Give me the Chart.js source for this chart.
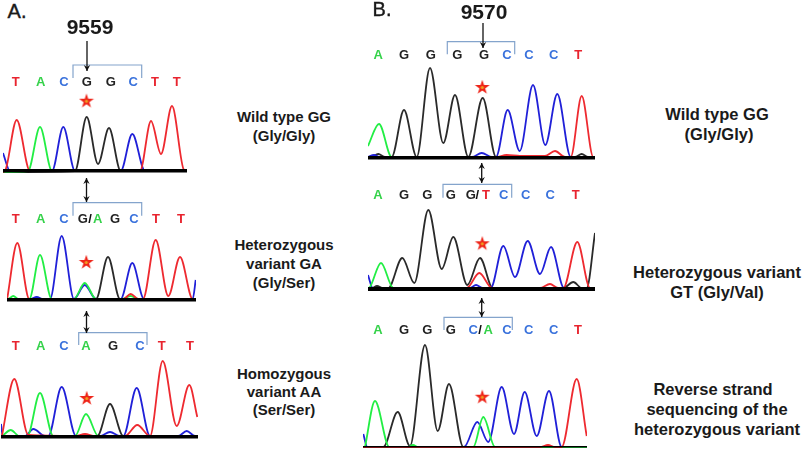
<!DOCTYPE html>
<html><head><meta charset="utf-8">
<script src="https://cdn.jsdelivr.net/npm/chart.js@4/dist/chart.umd.min.js"></script>
<style>
html,body{margin:0;padding:0;background:#fff;width:805px;height:450px;overflow:hidden;font-family:"Liberation Sans",Arial,sans-serif}
canvas{position:absolute;left:0;top:0}
.chartBox{position:absolute}
.t{position:absolute;white-space:nowrap;transform:translate(-50%,-50%);color:#1a1a1a}
.lab{font-weight:bold;font-size:15px}
.labB{font-weight:bold;font-size:16.5px}
</style></head><body>
<script>
// Base calls (bases), their scan positions, and per-channel traces [scan position, signal]
const a1Bases=["T","A","C","G","G","C","T","T"];
const a1BasePos=[15.7,40.7,64,86.7,110.7,133.3,155,176.7];
const a1T=[[3,0],[5,1],[16.7,52],[30,1],[140,1],[151,51],[161,18],[172,66],[184,2],[187,1]];
const a1G=[[3,0],[75,1],[86.7,55],[98,8],[109,44],[120.7,1],[187,1]];
const a1A=[[3,0],[28,1],[40,45],[52,1],[187,1]];
const a1C=[[3,19],[10,1],[52,1],[63.3,45],[75,1],[120.7,1],[132.3,38],[145,1],[187,1]];

const a2Bases=["T","A","C","G","/","A","G","C","T","T"];
const a2BasePos=[15.7,40.7,64,82.7,90,97.7,115,134,156,181];
const a2T=[[7.3,3],[17.3,58],[29.3,2],[123.3,2],[130.7,7],[138.3,2],[143,2],[155.7,61],[168.3,5],[180,44],[192.7,2],[195,2]];
const a2G=[[7,2],[96,2],[108,44],[120,2],[195,2]];
const a2A=[[7,2],[8,2],[13.3,5],[18.3,2],[29.3,2],[40,46],[51.7,2],[74,2],[84.7,18],[96,2],[122,2],[130.7,5],[138,2],[195,2]];
const a2C=[[7,2],[30,2],[36.7,4],[43,2],[50,2],[61.7,65],[74,2],[84.7,16],[96,2],[120.7,2],[132.3,38],[144,2],[192.7,2],[195.7,21]];

const a3Bases=["T","A","C","A","G","C","T","T"];
const a3BasePos=[15.7,40.7,64,86,113,140,161.7,190];
const a3T=[[1.7,1],[14.3,59],[28.3,3],[75,2],[85,4],[95,2],[125,2],[137.3,13],[150,2],[162.7,77],[176.7,12],[189.3,53],[197.3,21]];
const a3G=[[1,2],[97.3,2],[110,34],[123.3,2],[197,2]];
const a3A=[[3.3,3],[10.7,8],[19.3,2],[27.3,2],[40,45],[53.3,2],[75,2],[86,24],[98.3,2],[197,2]];
const a3C=[[1,14],[2.7,2],[25,2],[33.3,9],[45,2],[48.3,2],[61.7,51],[76,2],[100,2],[110,6],[120,2],[123.3,2],[136.7,50],[150,2],[178.3,2],[186.7,7],[195,2],[197,2]];

const b1Bases=["A","G","G","G","G","C","C","C","T"];
const b1BasePos=[378.3,404,430.7,457.3,484,507,529,553.7,578.3];
const b1T=[[368,1],[496,2],[506.7,4],[520,3],[533,3],[545,3],[555,8],[565,2],[570.7,2],[581.7,63],[593.3,2],[595,2]];
const b1G=[[368,1],[372,2],[378.3,5],[385,2],[391.7,2],[404,49],[416.7,2],[430,91],[443.3,16],[455,64],[468.3,2],[482.7,61],[496,2],[575,2],[581.7,5],[588,2],[595,2]];
const b1A=[[368,13],[379,35],[391.7,2],[595,2]];
const b1C=[[368,2],[374,4],[380,2],[472,2],[481.7,6],[492,2],[496,2],[507.7,49],[519.7,8],[533,74],[545.3,14],[557.3,65],[570.7,2],[595,2]];

const b2Bases=["A","G","G","G","G","/","T","C","C","C","T"];
const b2BasePos=[378,404,427.3,450.7,470.7,477.3,486,503.7,525.7,550.3,575.7];
const b2T=[[368,2],[466.7,2],[479.3,17],[492,2],[540,2],[550,6],[558,2],[563.3,2],[577.3,48],[590,2],[595,2]];
const b2G=[[368,2],[372,2],[377,4],[383,2],[388.3,2],[402.3,32],[414.3,7],[428.3,80],[441.7,21],[453.3,53],[467.3,5],[480,32],[492.7,2],[563.3,2],[573.3,8],[581.7,2],[586.7,2],[595,57]];
const b2A=[[368,2],[370,3],[381,27],[393.3,2],[595,2]];
const b2C=[[368,15],[372.7,2],[470,2],[476,5],[482.7,2],[490.7,2],[503.3,44],[515,13],[527.7,49],[540,16],[551,43],[564,2],[595,2]];

const b3Bases=["A","G","G","G","C","/","A","C","C","C","T"];
const b3BasePos=[378,404,427.3,450.7,473.3,480,488.3,507,528.7,553.7,578];
const b3T=[[363,1],[540,1],[548,3],[555,1],[561.7,1],[576.7,69],[586.7,12]];
const b3G=[[363,1],[383.3,1],[397.7,36],[410,2],[425,103],[437.7,17],[449,64],[463.3,1],[587,1]];
const b3A=[[365,1],[375,47],[389.3,1],[408,1],[413,3],[418,1],[473.3,1],[483.3,31],[495,1],[587,1]];
const b3C=[[363.3,14],[367.3,1],[464,1],[477.3,26],[488.3,6],[501.7,61],[514,14],[524.7,56],[536.7,12],[549,57],[561.7,1],[587,1]];

const panelStars=[86.5,86.3,86.7,482.3,482.3,482.3];
const baseColors={A:"#35d24a",C:"#3a72dc",G:"#222222",T:"#e8242f","/":"#111111"};
const traceColors={A:"#22ee44",C:"#2020d8",G:"#2a2a2a",T:"#ee2a30"};

// star marker used as the point style of the "variant position" dataset
function starImage(){
  const c=document.createElement("canvas");c.width=16;c.height=16;
  const g=c.getContext("2d");
  g.beginPath();
  for(let i=0;i<10;i++){const r=i%2?3:7.8,a=-Math.PI/2+i*Math.PI/5;
    g.lineTo(8+r*Math.cos(a),8.5+r*Math.sin(a));}
  g.closePath();g.fillStyle="#ee2418";g.fill();
  g.beginPath();g.arc(8,8.5,1.6,0,7);g.fillStyle="#f0a020";g.fill();
  return c;
}
const star=starImage();

const annot={id:"annot",afterDatasetsDraw(ch){
  const o=ch.options.plugins.annot,c=ch.ctx,x=ch.scales.x,y=ch.scales.y;
  c.save();
  c.font='bold 13px "Liberation Sans",Arial,sans-serif';
  c.textAlign="center";c.textBaseline="middle";
  o.bases.forEach((b,i)=>{c.fillStyle=baseColors[b];c.fillText(b,x.getPixelForValue(o.pos[i]),y.getPixelForValue(o.rowH));});
  const [bx0,bx1,bt,bb]=o.bracket;
  c.strokeStyle="#84a4cc";c.lineWidth=1.2;c.beginPath();
  c.moveTo(x.getPixelForValue(bx0),y.getPixelForValue(bb));
  c.lineTo(x.getPixelForValue(bx0),y.getPixelForValue(bt));
  c.lineTo(x.getPixelForValue(bx1),y.getPixelForValue(bt));
  c.lineTo(x.getPixelForValue(bx1),y.getPixelForValue(bb));c.stroke();
  c.strokeStyle="#111";c.fillStyle="#111";
  o.arrows.forEach(a=>{
    const ax=a[0],top=a[1],bot=a[2],dbl=a[3];
    const px=x.getPixelForValue(ax),p0=y.getPixelForValue(top),p1=y.getPixelForValue(bot);
    c.lineWidth=1.3;c.beginPath();c.moveTo(px,p0);c.lineTo(px,p1);c.stroke();
    const head=(py,d)=>{c.beginPath();c.moveTo(px,py);c.lineTo(px-3.2,py-d*6);c.lineTo(px,py-d*4);c.lineTo(px+3.2,py-d*6);c.closePath();c.fill();};
    head(p1,1);if(dbl)head(p0,-1);
  });
  c.restore();
}};
Chart.register(annot);

function makePanel(cfg){
  const W=cfg.right-cfg.left,H=cfg.base-cfg.top,below=2; // room under the baseline
  const box=document.createElement("div");box.className="chartBox";
  box.style.cssText=`left:${cfg.left}px;top:${cfg.top}px;width:${W}px;height:${H+below}px`;
  const cv=document.createElement("canvas");cv.width=W;cv.height=H+below;box.appendChild(cv);document.body.appendChild(box);
  const toXY=a=>a.map(p=>({x:p[0],y:p[1]}));
  const h=v=>cfg.base-v; // annotation heights measured above the baseline
  const ser=(name,arr)=>({label:name,data:toXY(arr),borderColor:traceColors[name],borderWidth:1.8,pointRadius:0,cubicInterpolationMode:"monotone",fill:false});
  new Chart(cv,{type:"line",
    data:{datasets:[ser("T",cfg.T),ser("A",cfg.A),ser("C",cfg.C),ser("G",cfg.G),
      {label:"star",data:[{x:cfg.starX,y:h(cfg.starY)}],pointStyle:star,pointRadius:8,showLine:false,clip:false}]},
    options:{responsive:false,animation:false,maintainAspectRatio:false,
      layout:{padding:0,autoPadding:false},
      plugins:{legend:{display:false},tooltip:{enabled:false},
        annot:{bases:cfg.bases,pos:cfg.pos,rowH:h(cfg.rowY),
          bracket:[cfg.br[0],cfg.br[1],h(cfg.br[2]),h(cfg.br[3])],
          arrows:cfg.arrows.map(a=>[a[0],h(a[1]),h(a[2]),a[3]])}},
      scales:{
        x:{type:"linear",position:{y:1},min:cfg.left,max:cfg.right,ticks:{display:false},grid:{display:false,drawTicks:false},border:{color:"#000",width:cfg.bw,z:1}},
        y:{min:-below,max:H,display:false}
      }}});
}
const panels=[
 {left:3,right:187,top:35,base:172,bw:3.5,T:a1T,G:a1G,A:a1A,C:a1C,bases:a1Bases,pos:a1BasePos,rowY:82,starX:panelStars[0],starY:100.7,br:[73,141.7,65,78],arrows:[[87,41,71,false]]},
 {left:7,right:196,top:175,base:301,bw:3.5,T:a2T,G:a2G,A:a2A,C:a2C,bases:a2Bases,pos:a2BasePos,rowY:219,starX:panelStars[1],starY:262,br:[73,141.7,202.7,215.7],arrows:[[86.5,178,202,true]]},
 {left:1,right:198,top:306,base:438,bw:3.5,T:a3T,G:a3G,A:a3A,C:a3C,bases:a3Bases,pos:a3BasePos,rowY:346.7,starX:panelStars[2],starY:398,br:[78.7,147,332.7,345],arrows:[[86.5,311,333,true]]},
 {left:368,right:595,top:20,base:159,bw:3.5,T:b1T,G:b1G,A:b1A,C:b1C,bases:b1Bases,pos:b1BasePos,rowY:55,starX:panelStars[3],starY:87,br:[447.3,514.7,41.7,54.3],arrows:[[483,23,48,false]]},
 {left:368,right:595,top:160,base:290,bw:4,T:b2T,G:b2G,A:b2A,C:b2C,bases:b2Bases,pos:b2BasePos,rowY:195,starX:panelStars[4],starY:243.3,br:[443,511.7,184.3,197.7],arrows:[[481.7,163,183,true]]},
 {left:363,right:587,top:295,base:448,bw:1.5,T:b3T,G:b3G,A:b3A,C:b3C,bases:b3Bases,pos:b3BasePos,rowY:330.7,starX:panelStars[5],starY:396.7,br:[444,512.3,317.3,330],arrows:[[481.7,298,317,true]]}
];
panels.forEach(makePanel);

const texts=[
 ["A.",17,11,"font-size:20px;-webkit-text-stroke:0.4px #1a1a1a"],["B.",382,9,"font-size:20px;-webkit-text-stroke:0.4px #1a1a1a"],
 ["9559",90,27,"font-size:21px;font-weight:bold"],["9570",484,12,"font-size:21px;font-weight:bold"],
 ["Wild type GG",284,116,"lab"],["(Gly/Gly)",284,135,"lab"],
 ["Heterozygous",284,244,"lab"],["variant GA",284,263,"lab"],["(Gly/Ser)",284,282,"lab"],
 ["Homozygous",284,373,"lab"],["variant AA",284,391,"lab"],["(Ser/Ser)",284,409,"lab"],
 ["Wild type GG",717,114,"labB"],["(Gly/Gly)",719,134,"labB"],
 ["Heterozygous variant",717,272,"labB"],["GT (Gly/Val)",717,292,"labB"],
 ["Reverse strand",713,389,"labB"],["sequencing of the",717,409,"labB"],["heterozygous variant",717,429,"labB"]
];
texts.forEach(([s,x,y,st])=>{const d=document.createElement("div");d.textContent=s;d.className="t "+(st.includes(":")?"":st);
  if(st.includes(":"))d.style.cssText=st;d.style.left=x+"px";d.style.top=y+"px";document.body.appendChild(d);});
</script>
</body></html>
